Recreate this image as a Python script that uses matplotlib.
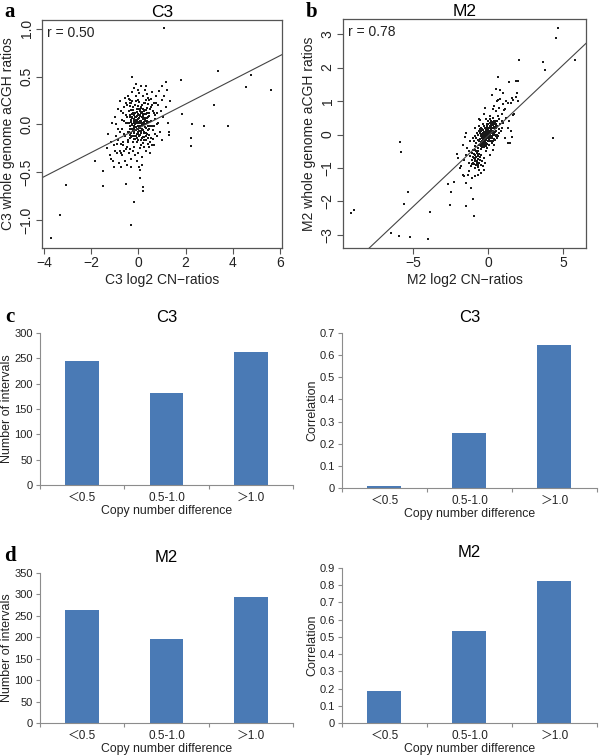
import matplotlib
matplotlib.use("Agg")
import matplotlib.pyplot as plt
import numpy as np

plt.rcParams['font.family'] = ['Liberation Sans', 'Noto Sans CJK SC', 'DejaVu Sans']

# ---- panel a: C3 scatter (x = log2 CN-ratio, y = aCGH ratio) ----
a_core = [(-0.45, 0.02), (-0.40, -0.08), (-0.38, 0.10), (-0.35, -0.02), (-0.33, 0.15), (-0.30, 0.05),
          (-0.28, -0.12), (-0.26, 0.00), (-0.24, 0.18), (-0.22, -0.06), (-0.20, 0.10), (-0.18, -0.15),
          (-0.16, 0.04), (-0.14, 0.20), (-0.12, -0.03), (-0.10, 0.08), (-0.08, -0.10), (-0.06, 0.13),
          (-0.04, -0.05), (-0.02, 0.02), (0.00, 0.06), (0.02, -0.12), (0.04, 0.16), (0.06, -0.02),
          (0.08, 0.10), (0.10, -0.07), (0.12, 0.03), (0.14, 0.20), (0.16, -0.14), (0.18, 0.07),
          (0.20, -0.01), (0.22, 0.14), (0.24, -0.09), (0.26, 0.05), (0.28, 0.22), (0.30, -0.04),
          (0.32, 0.11), (0.34, -0.16), (0.36, 0.02), (0.38, 0.17), (0.40, -0.06), (0.44, 0.09),
          (0.48, -0.02), (-0.42, 0.14), (-0.36, -0.14), (-0.31, 0.22), (-0.27, 0.08), (-0.23, -0.18),
          (-0.19, 0.01), (-0.15, 0.12), (-0.11, -0.12), (-0.07, 0.03), (-0.03, 0.19), (0.01, -0.04),
          (0.05, 0.09), (0.09, -0.16), (0.13, 0.13), (0.17, 0.00), (0.21, 0.06), (0.25, -0.13),
          (0.29, 0.15), (0.33, -0.09), (0.37, 0.07), (0.41, 0.21), (0.45, -0.11), (-0.05, -0.18),
          (0.03, 0.23), (0.11, 0.18), (-0.09, 0.24), (0.19, -0.19), (-0.25, 0.12), (-0.13, -0.06),
          (0.07, 0.04), (0.15, 0.08), (-0.01, 0.10), (0.23, 0.02), (-0.17, -0.02), (0.27, -0.03),
          (-0.21, 0.06), (0.31, 0.04), (-0.29, -0.05), (0.35, 0.12), (0.00, -0.08), (0.10, 0.01),
          (-0.10, 0.03), (0.20, 0.11), (-0.20, -0.09), (0.05, 0.15), (-0.05, 0.05), (0.15, -0.05)]
a_core2 = [(-0.33, -0.13), (-0.21, -0.12), (-0.07, -0.14), (0.06, -0.11), (0.18, -0.13), (0.31, -0.12),
           (0.42, -0.14), (-0.30, -0.09), (-0.17, -0.08), (-0.03, -0.10), (0.11, -0.09), (0.24, -0.08),
           (0.37, -0.10), (-0.24, -0.07), (0.02, -0.07), (-0.34, -0.05), (-0.19, -0.04), (-0.06, -0.05),
           (0.08, -0.04), (0.21, -0.06), (0.33, -0.04), (0.43, -0.05), (-0.12, -0.06), (-0.27, -0.01),
           (-0.14, 0.00), (0.00, -0.02), (0.13, -0.01), (0.26, 0.00), (0.39, -0.02), (-0.08, 0.01),
           (0.19, 0.01), (-0.32, 0.03), (-0.18, 0.04), (-0.04, 0.03), (0.09, 0.04), (0.22, 0.03),
           (0.35, 0.04), (0.04, 0.02), (-0.11, 0.05), (-0.26, 0.07), (-0.13, 0.08), (0.01, 0.07),
           (0.14, 0.08), (0.27, 0.07), (0.40, 0.08), (-0.07, 0.09), (0.20, 0.09), (-0.29, 0.11),
           (-0.16, 0.12), (-0.02, 0.11), (0.12, 0.12), (0.24, 0.11), (0.36, 0.12), (0.06, 0.10),
           (-0.22, 0.15), (-0.08, 0.16), (0.07, 0.14), (0.18, 0.16), (0.30, 0.15), (-0.36, 0.08),
           (0.46, 0.03), (-0.40, 0.01), (-0.38, -0.11), (0.44, 0.12), (-0.15, -0.15), (0.25, -0.16),
           (0.10, 0.17), (-0.01, -0.16)]
a_mid = [(-0.78, -0.08), (-0.74, 0.14), (-0.66, -0.22), (-0.61, 0.04), (-0.56, -0.12), (-0.53, 0.22),
         (-0.49, -0.24), (-0.47, 0.08), (-0.43, -0.16), (-0.39, 0.27), (-0.37, -0.26), (-0.34, 0.19),
         (0.47, 0.16), (0.51, -0.18), (0.53, 0.27), (0.57, -0.02), (0.59, 0.20), (0.63, -0.15),
         (0.67, 0.12), (0.71, -0.10), (0.74, 0.22), (0.77, 0.00), (0.80, 0.12), (-0.62, -0.28),
         (-0.76, -0.30), (-0.86, -0.16), (-0.94, 0.00), (0.40, 0.28), (0.46, -0.24), (-0.20, -0.24),
         (0.10, -0.22), (-0.02, 0.26), (0.22, 0.22), (-0.26, 0.24), (0.34, 0.26)]
a_spread = [(-1.35, -0.25), (-1.28, -0.10), (-1.22, -0.32), (-1.18, -0.18), (-1.12, 0.02), (-1.08, -0.38),
            (-1.04, -0.22), (-0.98, 0.08), (-0.95, -0.12), (-0.92, -0.30), (-0.88, 0.16), (-0.85, -0.05),
            (-0.82, -0.40), (-0.78, 0.24), (-0.75, -0.20), (-0.72, 0.05), (-0.68, -0.32), (-0.65, 0.12),
            (-0.62, -0.10), (-0.58, 0.28), (-0.55, -0.26), (-0.52, 0.02), (-0.50, -0.42), (-0.48, 0.20),
            (-0.46, -0.18), (-0.44, 0.30), (-0.40, -0.30), (-0.36, 0.26), (-0.32, -0.36), (-0.28, 0.34),
            (-0.24, -0.28), (-0.20, 0.38), (-0.16, -0.32), (-0.12, 0.30), (-0.08, -0.38), (-0.04, 0.36),
            (0.00, -0.30), (0.04, 0.33), (0.08, -0.25), (0.12, 0.40), (0.16, -0.34), (0.20, 0.30),
            (0.24, -0.24), (0.28, 0.36), (0.32, -0.28), (0.36, 0.32), (0.40, -0.20), (0.44, 0.26),
            (0.48, -0.30), (0.52, 0.18), (0.55, -0.14), (0.58, 0.34), (0.62, -0.06), (0.65, 0.22),
            (0.68, -0.22), (0.72, 0.10), (0.75, 0.30), (0.78, -0.12), (0.82, 0.20), (0.85, 0.02),
            (0.88, 0.35), (0.92, -0.08), (0.95, 0.14), (0.98, 0.26), (1.02, -0.16), (1.06, 0.08),
            (1.10, 0.30), (1.15, 0.18), (1.20, 0.36), (1.25, 0.02), (1.30, -0.08), (1.32, 0.24),
            (-0.90, -0.20), (-0.70, -0.05), (-0.60, 0.18), (-0.58, -0.38), (-0.52, 0.10), (-0.46, -0.08),
            (-0.38, 0.22), (0.54, 0.04), (0.60, 0.14), (0.66, -0.02), (0.70, 0.06), (0.56, -0.22),
            (-0.64, -0.18), (-1.00, -0.28), (-0.80, -0.28), (-0.74, -0.44), (-0.30, -0.44), (0.14, -0.42),
            (0.30, 0.40), (-0.10, 0.42), (1.00, 0.40)]
a_outliers = [(1.07, 1.01), (-0.29, 0.50), (1.19, 0.44), (1.81, 0.46), (3.40, 0.56), (4.77, 0.52),
              (4.56, 0.39), (5.65, 0.36), (3.19, 0.20), (1.84, 0.11), (2.26, 0.00), (2.79, -0.02),
              (3.81, -0.02), (2.22, -0.14), (2.22, -0.23), (1.31, -0.11), (-1.83, -0.38), (-1.52, -0.49),
              (-1.52, -0.64), (-3.07, -0.63), (-3.32, -0.95), (-3.70, -1.19), (-0.53, -0.62), (-0.18, -0.81),
              (-0.32, -1.05), (0.21, -0.65), (0.21, -0.70), (0.07, -0.56), (0.03, -0.44), (0.06, -0.48),
              (-1.02, -0.44), (-1.15, -0.36)]
a_fit = (0.126, -0.04)   # slope, intercept
a_r = "r = 0.50"

# ---- panel b: M2 scatter ----
b_core = [(-0.90, -0.35), (-0.85, -0.05), (-0.80, -0.25), (-0.75, 0.05), (-0.70, -0.40), (-0.65, -0.15),
          (-0.60, 0.10), (-0.55, -0.30), (-0.50, -0.05), (-0.45, 0.20), (-0.40, -0.25), (-0.35, 0.05),
          (-0.30, -0.15), (-0.25, 0.25), (-0.20, -0.30), (-0.15, 0.10), (-0.10, -0.10), (-0.05, 0.30),
          (0.00, -0.20), (0.05, 0.05), (0.10, 0.25), (0.15, -0.10), (0.20, 0.15), (0.25, -0.25),
          (0.30, 0.35), (0.35, 0.00), (0.40, 0.20), (0.45, -0.15), (0.50, 0.40), (0.55, 0.10),
          (0.60, 0.25), (0.65, -0.05), (0.70, 0.45), (0.75, 0.15), (0.80, 0.30), (-0.95, -0.20),
          (-0.88, -0.45), (-0.78, -0.10), (-0.68, 0.00), (-0.58, -0.20), (-0.48, -0.35), (-0.38, 0.15),
          (-0.28, -0.05), (-0.18, 0.20), (-0.08, 0.00), (0.02, 0.15), (0.12, -0.05), (0.22, 0.30),
          (0.32, 0.10), (0.42, 0.05), (0.52, 0.25), (0.62, 0.40), (0.72, 0.05), (-0.42, -0.10),
          (-0.32, 0.30), (-0.22, 0.05), (-0.12, -0.25), (-0.02, 0.10), (0.08, -0.15), (0.18, 0.40),
          (0.28, -0.10), (0.38, 0.30), (0.48, 0.00), (0.58, -0.10), (-0.62, 0.25), (-0.52, 0.15),
          (0.00, 0.00), (0.10, 0.05), (-0.10, 0.05), (0.20, -0.05), (-0.20, -0.05), (0.05, -0.30),
          (-0.05, -0.40), (0.15, 0.45), (0.25, 0.10), (-0.25, -0.20), (0.35, 0.20), (-0.35, -0.30),
          (0.45, 0.30), (-0.45, 0.00), (0.30, 0.50), (0.10, 0.55), (-0.15, 0.45), (0.40, -0.30),
          (0.65, 0.55), (0.85, 0.10), (0.90, 0.40), (-1.00, -0.10), (-0.15, -0.50), (0.00, 0.40)]
b_core2 = [(-0.58, -0.30), (-0.53, -0.12), (-0.49, -0.22), (-0.44, -0.28), (-0.41, 0.02), (-0.37, -0.18),
           (-0.33, -0.08), (-0.29, -0.26), (-0.26, 0.08), (-0.23, -0.14), (-0.19, -0.22), (-0.16, 0.00),
           (-0.13, 0.14), (-0.11, -0.16), (-0.07, -0.04), (-0.04, 0.18), (-0.01, -0.10), (0.03, 0.02),
           (0.06, 0.20), (0.09, -0.08), (0.13, 0.10), (0.16, -0.18), (0.19, 0.26), (0.23, 0.04),
           (0.26, 0.18), (0.29, -0.06), (0.33, 0.28), (0.36, 0.10), (0.39, -0.12), (0.43, 0.18),
           (0.46, 0.36), (0.49, 0.08), (0.53, 0.20), (0.56, 0.32), (0.59, 0.00), (-0.55, 0.04),
           (-0.47, -0.42), (-0.39, -0.36), (-0.31, 0.14), (-0.21, 0.18), (-0.09, 0.24), (0.01, 0.30),
           (0.11, 0.34), (0.21, -0.18), (0.31, -0.20), (0.41, 0.40), (0.51, -0.04), (-0.06, -0.28),
           (-0.16, -0.34), (-0.26, -0.38), (0.04, -0.20), (0.14, 0.00), (-0.34, 0.00), (0.24, 0.38),
           (-0.44, 0.10), (0.08, 0.08), (-0.12, 0.06), (0.18, 0.12), (-0.22, -0.02), (0.28, 0.08),
           (-0.32, -0.12), (0.38, 0.22), (-0.42, -0.18), (0.02, -0.06), (-0.02, 0.04), (0.12, 0.22),
           (-0.18, -0.10), (0.22, -0.08), (0.32, 0.02), (-0.28, 0.02)]
b_lobe = [(-1.30, -0.85), (-1.20, -0.65), (-1.15, -0.95), (-1.10, -0.75), (-1.05, -0.55), (-1.00, -0.85),
          (-0.95, -0.70), (-0.90, -1.00), (-0.88, -0.60), (-0.85, -0.80), (-0.80, -0.68), (-0.78, -0.92),
          (-0.75, -0.55), (-0.72, -0.78), (-0.70, -0.65), (-0.68, -0.98), (-0.65, -0.72), (-0.62, -0.85),
          (-0.60, -0.58), (-0.55, -0.75), (-0.50, -0.90), (-0.45, -0.62), (-0.40, -0.80), (-0.35, -0.95),
          (-0.30, -0.70), (-0.98, -0.45), (-1.25, -0.50), (-0.82, -0.50), (-0.58, -1.05), (-0.92, -0.88),
          (-0.70, -0.50), (-1.02, -0.66), (-0.86, -0.72), (-0.76, -0.84), (-0.66, -0.60), (-0.52, -0.66),
          (-1.08, -0.88), (-0.94, -0.58), (-0.80, -0.80), (-0.64, -0.90)]
b_spread = [(0.90, 0.60), (1.00, 0.35), (1.10, 0.75), (1.20, 0.50), (1.30, 0.20), (1.00, 0.90),
            (0.70, 0.80), (0.50, 0.70), (0.40, 0.85), (0.80, 1.05), (1.20, 1.00), (1.50, 0.95),
            (1.60, 1.10), (1.40, 0.40), (1.50, 0.10), (1.30, -0.25), (1.10, -0.10), (0.95, 0.20),
            (0.60, 1.00), (0.30, 0.75), (-0.30, 0.60), (-0.60, 0.45), (-0.90, 0.20), (-1.20, -0.20),
            (-1.40, -0.40), (-1.60, -0.75), (-1.80, -0.95), (-1.50, -0.60), (-1.30, -1.10), (-1.60, -1.25),
            (-1.10, -1.30), (-0.90, -1.25), (-0.70, -1.20), (-0.50, -1.15), (-0.30, -1.05), (-0.20, -0.85),
            (0.10, -0.60), (0.30, -0.45), (-1.70, -0.30), (-2.00, -0.70), (1.90, 1.25), (2.00, 1.00),
            (1.70, 0.60), (1.00, 1.25), (0.50, 1.35)]
b_outliers = [(4.67, 3.19), (4.56, 2.89), (2.07, 2.24), (3.67, 2.16), (3.78, 1.94), (5.80, 2.22),
              (0.67, 1.73), (1.89, 1.60), (2.00, 1.61), (1.40, 1.58), (4.33, -0.11), (-5.84, -0.23),
              (-5.80, -0.51), (-5.31, -1.71), (-5.62, -2.08), (-9.13, -2.33), (-8.93, -2.25), (-6.44, -2.95),
              (-5.93, -3.02), (-5.22, -3.07), (-3.98, -3.12), (-3.89, -2.30), (-2.56, -2.10), (-2.49, -1.73),
              (-2.67, -1.49), (-2.27, -1.41), (-1.49, -2.15), (-0.96, -2.42), (-0.98, -1.92), (-1.11, -1.60),
              (-1.44, -1.46), (-1.33, -1.21), (-1.67, -1.21), (-2.04, -0.57), (-1.89, -1.01), (-1.49, 0.04),
              (-1.51, -0.06), (1.58, -0.06), (1.67, 0.58), (1.44, -0.26), (0.78, 1.33), (0.29, 1.18),
              (0.67, 1.03), (1.04, 0.73), (1.33, 0.93), (1.67, 1.03), (1.84, 1.13), (-0.22, 0.78),
              (-0.56, 0.43)]
b_fit = (0.423, -0.04)
b_r = "r = 0.78"

# ---- panels c/d: bar charts ----
categories = ['＜0.5', '0.5-1.0', '＞1.0']
c3_intervals = [245, 182, 263]
c3_corr = [0.01, 0.25, 0.645]
m2_intervals = [263, 195, 295]
m2_corr = [0.185, 0.535, 0.825]

W, H = 600, 756
fig = plt.figure(figsize=(W / 100, H / 100), dpi=100)


def rect(x0, y0, x1, y1):
    # pixel box (top-left origin) -> figure fraction
    return [x0 / W, 1 - y1 / H, (x1 - x0) / W, (y1 - y0) / H]


def scatter_panel(box, parts, fit, rtext, xlim, ylim, xticks, yticks, yfmt, xlabel, ylabel, title):
    ax = fig.add_axes(rect(*box))
    pts = np.array([p for part in parts for p in part])
    ax.scatter(pts[:, 0], pts[:, 1], s=2.4, marker='s', color='#1a1a1a', linewidths=0)
    xs = np.array(xlim)
    ax.plot(xs, fit[0] * xs + fit[1], color='#444444', lw=0.8)
    ax.set_xlim(xlim)
    ax.set_ylim(ylim)
    ax.set_xticks(xticks)
    ax.set_yticks(yticks)
    ax.set_yticklabels([yfmt.format(v).replace('-', '\u2212') for v in yticks], rotation=90, va='center')
    for s in ax.spines.values():
        s.set_color('#555555')
        s.set_linewidth(0.9)
    ax.tick_params(length=4, width=0.8, color='#555555', labelsize=10, labelcolor='#222222', pad=2)
    ax.set_xlabel(xlabel, fontsize=10, color='#222222', labelpad=2)
    ax.set_ylabel(ylabel, fontsize=10, color='#222222', labelpad=3)
    ax.set_title(title, fontsize=12.5, pad=1)
    ax.text(0.02, 0.975, rtext, transform=ax.transAxes, ha='left', va='top', fontsize=10, color='#222222')
    return ax


scatter_panel((42, 20, 282, 248), [a_core, a_core2, a_mid, a_spread, a_outliers], a_fit, a_r,
              (-4.1, 6.1), (-1.29, 1.09), [-4, -2, 0, 2, 4, 6], [-1.0, -0.5, 0.0, 0.5, 1.0], '{:.1f}',
              'C3 log2 CN\u2212ratios', 'C3 whole genome aCGH ratios', 'C3')
scatter_panel((343, 19, 586, 248), [b_core, b_core2, b_lobe, b_spread, b_outliers], b_fit, b_r,
              (-9.67, 6.53), (-3.39, 3.45), [-5, 0, 5], [-3, -2, -1, 0, 1, 2, 3], '{:d}',
              'M2 log2 CN\u2212ratios', 'M2 whole genome aCGH ratios', 'M2')


def bar_panel(box, values, ymax, ystep, yfmt, ylabel, title):
    ax = fig.add_axes(rect(*box))
    x = np.arange(len(categories))
    ax.bar(x, values, width=0.4, color='#4a7ab5')
    ax.set_xlim(-0.5, 2.5)
    ax.set_ylim(0, ymax)
    yt = np.arange(0, ymax + ystep / 2, ystep)
    ax.set_yticks(yt)
    ax.set_yticklabels([yfmt(v) for v in yt])
    ax.set_xticks([-0.5, 0.5, 1.5, 2.5])
    ax.set_xticklabels([])
    ax.set_xticks(x, minor=True)
    ax.set_xticklabels(categories, minor=True)
    for side in ['top', 'right']:
        ax.spines[side].set_visible(False)
    for side in ['left', 'bottom']:
        ax.spines[side].set_color('#8c8c8c')
        ax.spines[side].set_linewidth(0.8)
    ax.tick_params(axis='both', which='major', length=3, width=0.8, color='#8c8c8c',
                   labelsize=8, labelcolor='#222222', pad=2)
    ax.tick_params(axis='x', which='minor', length=0, labelsize=8.5, labelcolor='#222222', pad=5)
    ax.set_xlabel('Copy number difference', fontsize=8.8, color='#222222', labelpad=1)
    ax.set_ylabel(ylabel, fontsize=9, color='#222222', labelpad=1)
    ax.set_title(title, fontsize=12, pad=8)
    return ax


bar_panel((40, 333, 293, 485), c3_intervals, 300, 50, lambda v: f'{int(v)}', 'Number of intervals', 'C3')
bar_panel((342, 333, 597, 488), c3_corr, 0.7, 0.1, lambda v: '0' if v == 0 else f'{v:.1f}', 'Correlation', 'C3')
bar_panel((40, 573, 293, 723), m2_intervals, 350, 50, lambda v: f'{int(v)}', 'Number of intervals', 'M2')
bar_panel((342, 568, 597, 723), m2_corr, 0.9, 0.1, lambda v: '0' if v == 0 else f'{v:.1f}', 'Correlation', 'M2')

# panel letters
for letter, (px, py) in zip('abcd', [(10, 12), (312, 12), (10, 317), (10, 556)]):
    fig.text(px / W, 1 - py / H, letter, family='Liberation Serif', fontweight='bold', fontsize=15,
             ha='center', va='center')

fig.savefig('out.png', dpi=100)
